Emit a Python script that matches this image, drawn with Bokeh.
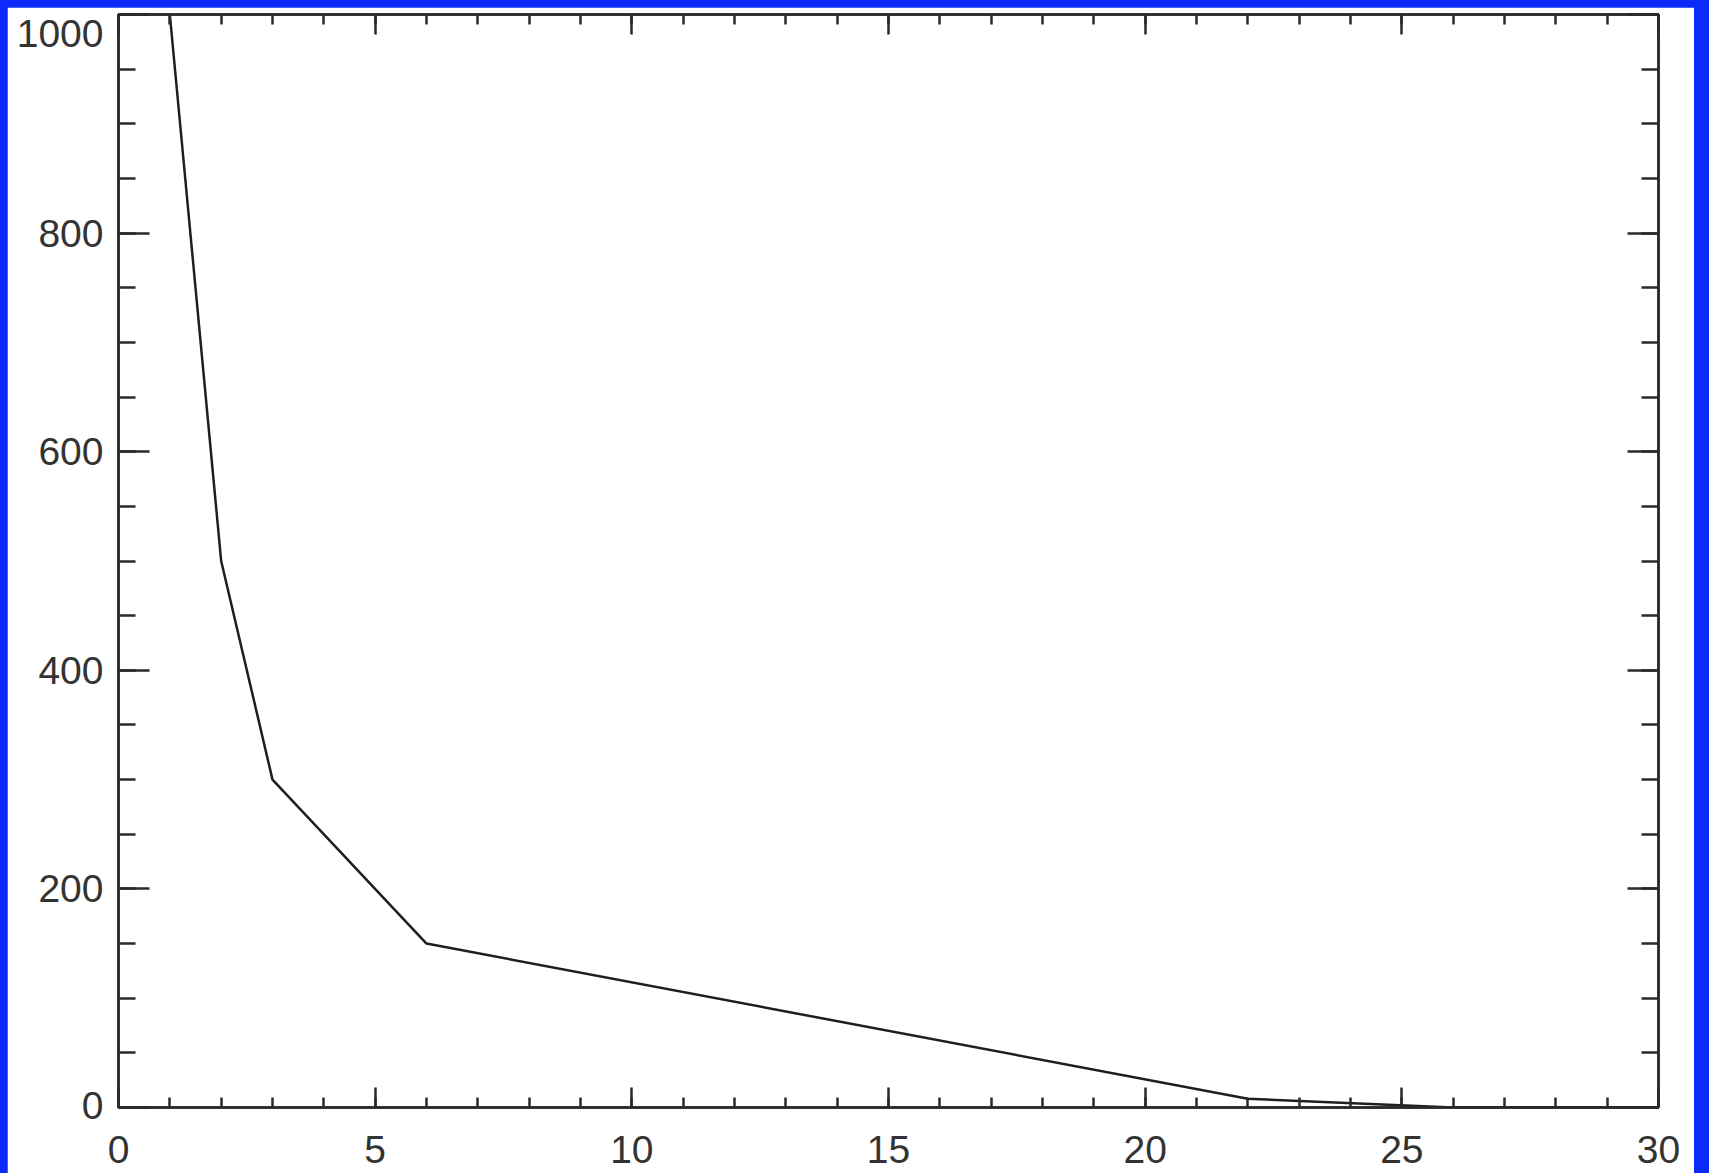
from bokeh.plotting import figure
from bokeh.models import Range1d, SingleIntervalTicker, LinearAxis
from bokeh.layouts import column
from bokeh.embed import file_html
from bokeh.resources import INLINE

# data
x_vals = [1, 2, 3, 6, 22, 26, 30]
y_vals = [1000, 500, 300, 150, 8, 0, 0]
x_ticks = [0, 5, 10, 15, 20, 25, 30]
y_ticks = [0, 200, 400, 600, 800, 1000]

FONT = "Liberation Sans"
DARK = "#2a2a2a"
LABEL_COLOR = "#333333"
FONT_SIZE = "39px"

p = figure(width=1687, height=1166, output_backend="svg", toolbar_location=None,
           x_range=Range1d(x_ticks[0], x_ticks[-1]), y_range=Range1d(y_ticks[0], y_ticks[-1]),
           x_axis_location=None, y_axis_location=None,
           min_border_left=111, min_border_right=36, min_border_top=7, min_border_bottom=66,
           background_fill_color="white", border_fill_color="white",
           outline_line_color=DARK, outline_line_width=2.5)
p.xgrid.visible = False
p.ygrid.visible = False
p.margin = (7, 15, 0, 7)


def make_axis(is_x, labels):
    if is_x:
        tk = SingleIntervalTicker(interval=5, num_minor_ticks=5)
        ax = LinearAxis(ticker=tk)
        ax.major_tick_in = 20
        ax.minor_tick_in = 10
    else:
        tk = SingleIntervalTicker(interval=200, num_minor_ticks=4)
        ax = LinearAxis(ticker=tk)
        ax.major_tick_in = 31
        ax.minor_tick_in = 17
    ax.major_tick_out = 0
    ax.minor_tick_out = 0
    ax.axis_line_color = DARK
    ax.axis_line_width = 2.5
    ax.major_tick_line_color = DARK
    ax.major_tick_line_width = 2.5
    ax.minor_tick_line_color = DARK
    ax.minor_tick_line_width = 2.5
    if labels:
        ax.major_label_text_font = FONT
        ax.major_label_text_font_size = FONT_SIZE
        ax.major_label_text_color = LABEL_COLOR
        ax.major_label_standoff = 28 if is_x else 15
    else:
        ax.major_label_text_font_size = "0px"
        ax.major_label_standoff = 0
    return ax


p.add_layout(make_axis(True, True), "below")
p.add_layout(make_axis(True, False), "above")
yl = make_axis(False, True)
# end labels sit just inside the frame, as in the reference
yl.major_label_overrides = {y_ticks[0]: str(y_ticks[0]) + "\n ",
                            y_ticks[-1]: " \n" + str(y_ticks[-1])}
yl.major_label_text_line_height = 0.1
p.add_layout(yl, "left")
p.add_layout(make_axis(False, False), "right")

p.line(x_vals, y_vals, line_color="#1e1e1e", line_width=2.5)

layout = column(p, styles={"background-color": "#0b2bfa"}, width=1709, height=1173)
open("out.html", "w").write(file_html(layout, INLINE))
